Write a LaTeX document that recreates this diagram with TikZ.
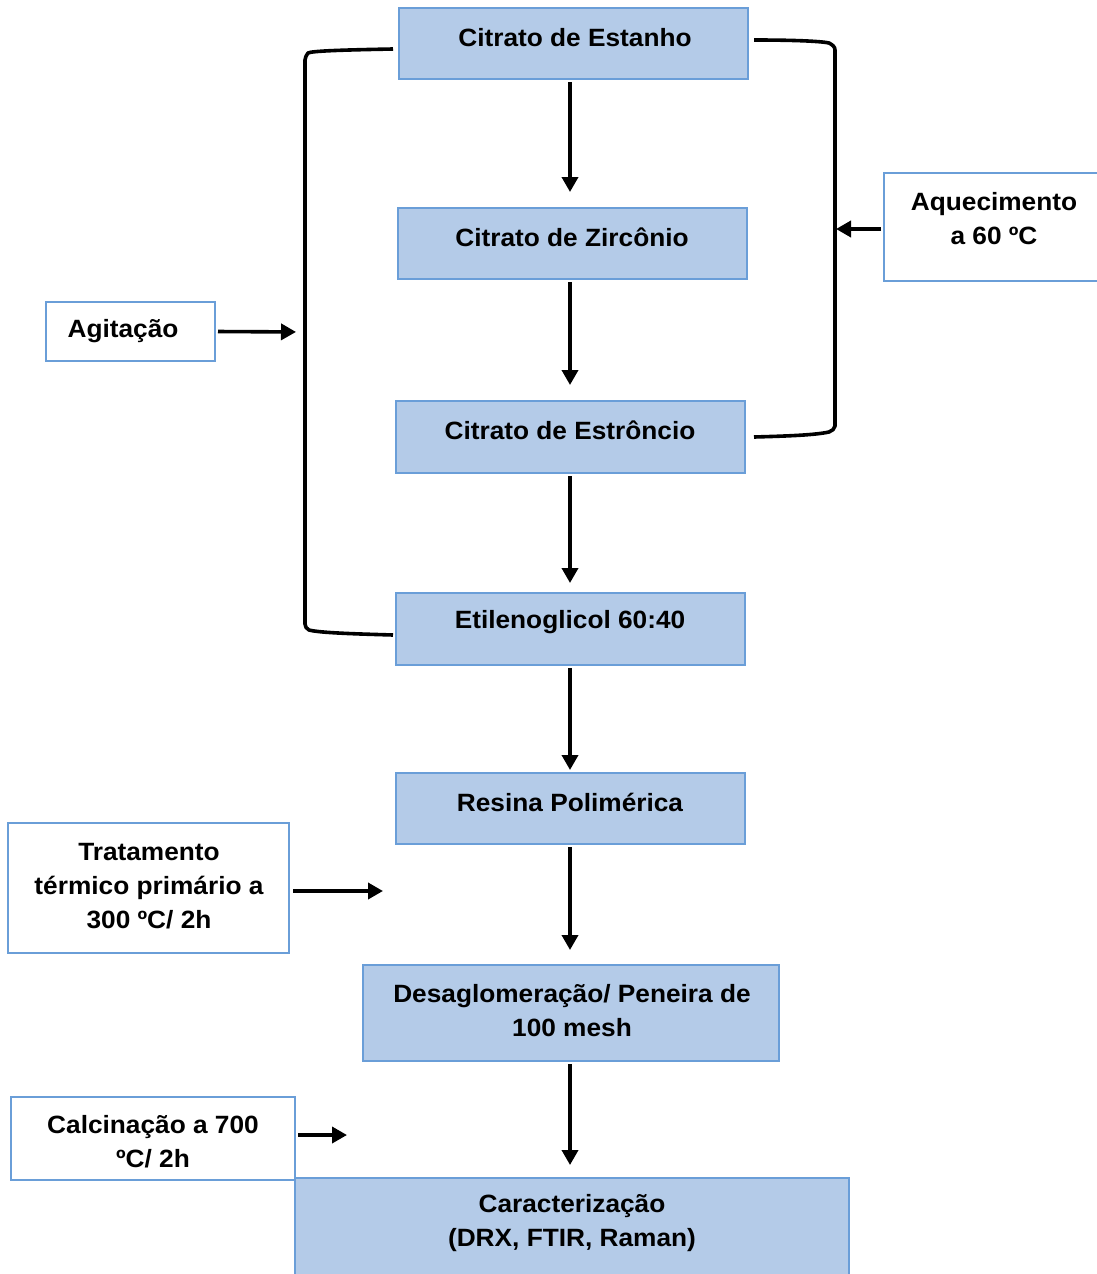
\documentclass[tikz,border=0pt]{standalone}
\usepackage{fontspec}
\setmainfont{Liberation Sans}[FakeStretch=1.05]
\usetikzlibrary{arrows.meta,calc}
\definecolor{boxfill}{HTML}{B4CBE8}
\definecolor{boxline}{HTML}{6A9ED8}
\tikzset{
  bluebox/.style={draw=boxline, line width=2pt, fill=boxfill, inner sep=0pt},
  whitebox/.style={draw=boxline, line width=2pt, fill=white, inner sep=0pt},
  txt/.style={font=\fontsize{25}{34}\selectfont\bfseries, align=center, inner sep=0pt},
  conn/.style={line width=3.6pt, draw=black},
  arr/.style={conn, -{Triangle[width=16pt,length=15pt]}},
}
\begin{document}
\begin{tikzpicture}[x=1pt,y=-1pt]
\useasboundingbox (0,0) rectangle (1096,1274);
% main boxes
\node[bluebox, minimum width=349pt, minimum height=71pt] (b1) at (573.5,43.5) {};
\node[bluebox, minimum width=349pt, minimum height=71pt] (b2) at (572.5,243.5) {};
\node[bluebox, minimum width=349pt, minimum height=72pt] (b3) at (570.5,437) {};
\node[bluebox, minimum width=349pt, minimum height=72pt] (b4) at (570.5,629) {};
\node[bluebox, minimum width=349pt, minimum height=71pt] (b5) at (570.5,808.5) {};
\node[bluebox, minimum width=416pt, minimum height=96pt] (b6) at (571,1013) {};
\node[bluebox, minimum width=554pt, minimum height=110pt] (b7) at (572,1233) {};
\node[txt] (t1) at (575,38) {Citrato de Estanho};
\node[txt] (t2) at (572,237) {Citrato de Zircônio};
\node[txt] (t3) at (570,430) {Citrato de Estrôncio};
\node[txt] (t4) at (570,622) {Etilenoglicol 60:40};
\node[txt] (t5) at (570,802) {Resina Polimérica};
\node[txt] (t6) at (572,1011) {Desaglomeração/ Peneira de\\100 mesh};
\node[txt] (t7) at (572,1223) {Caracterização\\(DRX, FTIR, Raman)};
% side boxes
\node[whitebox, minimum width=169pt, minimum height=59pt] (ag) at (130.5,331.5) {};
\node[txt] (tag) at (123,331) {Agitação};
\node[whitebox, minimum width=230pt, minimum height=108pt] (aq) at (999,227) {};
\node[txt] (taq) at (994,219) {Aquecimento\\a 60 ºC};
\node[whitebox, minimum width=281pt, minimum height=130pt] (tr) at (148.5,888) {};
\node[txt] (ttr) at (149,886) {Tratamento\\térmico primário a\\300 ºC/ 2h};
\node[whitebox, minimum width=284pt, minimum height=83pt] (ca) at (153,1138.5) {};
\node[txt] (tca) at (153,1142) {Calcinação a 700\\ºC/ 2h};
% coordinates
\coordinate (ax) at (570,0);
\coordinate (lb) at (305,332);
\coordinate (rb) at (835,229);
\coordinate (trend) at (383,891);
\coordinate (caend) at (347,1135);
% vertical arrows
\draw[arr, shorten <=2pt, shorten >=15pt] (b1.south -| ax) -- (b2.north -| ax);
\draw[arr, shorten <=2pt, shorten >=15pt] (b2.south -| ax) -- (b3.north -| ax);
\draw[arr, shorten <=2pt, shorten >=9pt] (b3.south -| ax) -- (b4.north -| ax);
\draw[arr, shorten <=2pt, shorten >=2pt] (b4.south -| ax) -- (b5.north -| ax);
\draw[arr, shorten <=2pt, shorten >=14pt] (b5.south -| ax) -- (b6.north -| ax);
\draw[arr, shorten <=2pt, shorten >=12pt] (b6.south -| ax) -- (b7.north -| ax);
% brackets
\draw[conn, line join=round] ($(b1.west)+(-5,5.5)$) .. controls (340,50) and (312,51) .. (308,53) to[out=-120,in=90] (305,60) -- (305,624) to[out=-90,in=150] (309,630) .. controls (320,633) and (360,634) .. ($(b4.west)+(-2,6)$);
\draw[conn, line join=round] ($(b1.east)+(5,-3.5)$) .. controls (790,40) and (820,41) .. (829,43) to[out=-30,in=90] (835,50) -- (835,426) to[out=-90,in=30] (829,432) .. controls (815,435) and (790,436) .. ($(b3.east)+(8,0)$);
% side arrows
\draw[arr, shorten <=2pt, shorten >=9pt] (ag.east) -- (lb);
\draw[arr, shorten <=2pt, shorten >=1pt] (aq.west |- rb) -- (rb);
\draw[arr, shorten <=3pt] (tr.east |- trend) -- (trend);
\draw[arr, shorten <=2pt] (ca.east |- caend) -- (caend);
\end{tikzpicture}
\end{document}
